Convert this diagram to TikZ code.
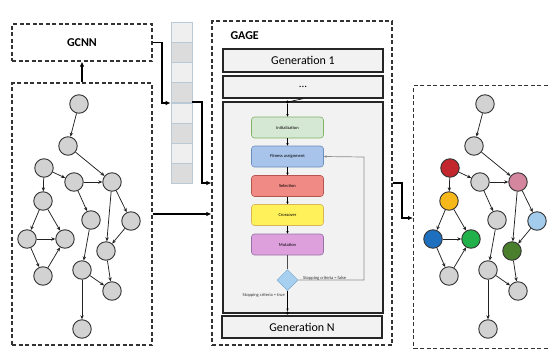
\documentclass[tikz,border=0pt]{standalone}
\usepackage{fontspec}
\setmainfont{Carlito}
\usetikzlibrary{arrows.meta,shapes.geometric}

\definecolor{nodegrey}{HTML}{D2D2D2}
\definecolor{edgegrey}{HTML}{222222}
\definecolor{cellA}{HTML}{EFEFEF}
\definecolor{cellB}{HTML}{DCDCDC}
\definecolor{cellline}{HTML}{B9C9D6}
\definecolor{panel}{HTML}{F2F2F2}
\definecolor{initF}{HTML}{D5E8D4}\definecolor{initD}{HTML}{82B366}
\definecolor{fitF}{HTML}{A9C4EB}\definecolor{fitD}{HTML}{6C8EBF}
\definecolor{selF}{HTML}{F08A84}\definecolor{selD}{HTML}{B85450}
\definecolor{croF}{HTML}{FFF15A}\definecolor{croD}{HTML}{D6B656}
\definecolor{mutF}{HTML}{DDA0DD}\definecolor{mutD}{HTML}{9673A6}
\definecolor{diaF}{HTML}{A7CFF0}\definecolor{diaD}{HTML}{7AA6CC}
\definecolor{cRed}{HTML}{C1272D}
\definecolor{cYellow}{HTML}{F7B81C}
\definecolor{cBlue}{HTML}{1F6FBF}
\definecolor{cGreen}{HTML}{22B04A}
\definecolor{cPink}{HTML}{D4869F}
\definecolor{cLight}{HTML}{A3CBEC}
\definecolor{cDark}{HTML}{4A7F2E}

\tikzset{
  dashbox/.style={draw=black!80, line width=1.1pt, dash pattern=on 4pt off 2.5pt},
  bigarrow/.style={line width=1.8pt, -{Latex[length=5pt,width=4.5pt]}},
  gnode/.style={circle, draw=black!80, line width=0.9pt, minimum size=18.5pt, inner sep=0pt},
  gedge/.style={edgegrey, line width=0.75pt, -{Stealth[length=4pt,width=3.4pt]}},
  genbox/.style={draw=black!85, line width=1.4pt, fill=panel},
  stepbox/.style={draw, rounded corners=3pt, minimum width=72pt, minimum height=21pt,
    inner sep=0pt, font=\fontsize{4.5}{5}\selectfont, line width=0.6pt},
  flow/.style={black, line width=0.6pt, -{Stealth[length=2.6pt,width=2.4pt]}},
  cell/.style={draw=cellline, line width=0.6pt, minimum width=21pt, minimum height=20pt, inner sep=0pt},
  smalltext/.style={font=\fontsize{4.5}{5}\selectfont, text=black!80},
  dot/.style={circle, fill=black, inner sep=0pt, minimum size=3.4pt}
}

% A directed graph; #1 = x shift, #2..#8 = fills of nodes c, f, e, h, i, j, k
\newcommand\gnet[8]{%
  \begin{scope}[xshift=#1]
    \node[gnode, fill=nodegrey] (a) at (79,104) {};
    \node[gnode, fill=nodegrey] (b) at (68,146) {};
    \node[gnode, fill=#2] (c) at (44,168) {};
    \node[gnode, fill=nodegrey] (d) at (74,182) {};
    \node[gnode, fill=#4] (e) at (112,182) {};
    \node[gnode, fill=#3] (f) at (43,201) {};
    \node[gnode, fill=nodegrey] (g) at (91,220) {};
    \node[gnode, fill=#5] (h) at (131,221) {};
    \node[gnode, fill=#6] (i) at (27,239) {};
    \node[gnode, fill=#7] (j) at (65,239) {};
    \node[gnode, fill=#8] (k) at (106,251) {};
    \node[gnode, fill=nodegrey] (l) at (43,276) {};
    \node[gnode, fill=nodegrey] (m) at (82,270) {};
    \node[gnode, fill=nodegrey] (n) at (112,291) {};
    \node[gnode, fill=nodegrey] (o) at (82,329) {};
    \foreach \s/\t in {a/b, b/e, c/f, c/d, d/e, d/g, e/k, e/h, h/k, f/i, f/j, i/j, i/l, l/j, g/m, m/o, m/n, k/n}
      \draw[gedge] (\s) -- (\t);
  \end{scope}}

\begin{document}
\begin{tikzpicture}[x=1pt, y=-1pt]
  \useasboundingbox (0,0) rectangle (550,354);
  \clip (0,0) rectangle (550,354);

  % GCNN block and input graph frame
  \node[dashbox, minimum width=140pt, minimum height=37pt, inner sep=0pt,
        font=\bfseries\fontsize{12}{14}\selectfont] (gcnn) at (82,42.5) {GCNN};
  \node[dashbox, minimum width=140pt, minimum height=262pt, inner sep=0pt] (inframe) at (82,214) {};
  \begin{scope}[name prefix=L-]
    \gnet{0pt}{nodegrey}{nodegrey}{nodegrey}{nodegrey}{nodegrey}{nodegrey}{nodegrey}
  \end{scope}

  % embedding vector
  \foreach \k in {0,...,7}{
    \pgfmathsetmacro\cy{32+20.2*\k}
    \ifodd\k
      \node[cell, fill=cellB] (v\k) at (181.5,\cy) {};
    \else
      \node[cell, fill=cellA] (v\k) at (181.5,\cy) {};
    \fi
  }

  % GAGE frame
  \node[dashbox, minimum width=180pt, minimum height=324pt, inner sep=0pt] (gage) at (302,183) {};
  \node[font=\bfseries\fontsize{12}{14}\selectfont, anchor=west] (gagelbl) at (227,36) {GAGE};
  \node[genbox, minimum width=160pt, minimum height=23pt, inner sep=0pt,
        font=\fontsize{12}{14}\selectfont] (gen1) at (303,60.5) {Generation 1};
  \node[genbox, minimum width=160pt, minimum height=22pt, inner sep=0pt,
        font=\fontsize{11}{12}\selectfont] (gdots) at (303,87) {...};
  \node[genbox, line width=1.1pt, minimum width=160pt, minimum height=211pt, inner sep=0pt] (inner) at (303,207.5) {};
  \node[genbox, minimum width=160pt, minimum height=22pt, inner sep=0pt,
        font=\fontsize{12}{14}\selectfont] (genN) at (302,327) {Generation N};

  % genetic algorithm loop
  \node[stepbox, fill=initF, draw=initD] (init) at (287.5,127.5) {Initialization};
  \node[stepbox, fill=fitF, draw=fitD] (fit) at (287.5,156.5) {Fitness assignment};
  \node[stepbox, fill=selF, draw=selD] (sel) at (287.5,186) {Selection};
  \node[stepbox, fill=croF, draw=croD] (cro) at (287.5,215) {Crossover};
  \node[stepbox, fill=mutF, draw=mutD] (mut) at (287.5,244.5) {Mutation};
  \node[diamond, fill=diaF, draw=diaD, line width=0.5pt, minimum width=21pt, minimum height=21pt,
        inner sep=0pt] (stop) at (287.5,280) {};
  \node[dot] (topdot) at (287.5,102) {};
  \node[dot] (botdot) at (287.5,313) {};
  \coordinate (fbR) at (364,280);
  \coordinate (fbT) at (364,157);

  \draw[black, line width=0.6pt] (gdots.south) -- (topdot);
  \draw[flow] (topdot) -- (init);
  \draw[flow] (init) -- (fit);
  \draw[flow] (fit) -- (sel);
  \draw[flow] (sel) -- (cro);
  \draw[flow] (cro) -- (mut);
  \draw[black!70, line width=0.6pt] (mut) -- (stop);
  \draw[flow] (stop) -- (botdot);
  \draw[black!45, line width=0.7pt, -{Stealth[length=2.8pt,width=2.6pt]}]
    (stop.east) -- (fbR) -- (fbT) -- (fit.east);
  \node[smalltext, anchor=south west, inner sep=1pt] (lblfalse) at (302,281) {Stopping criteria = false};
  \node[smalltext, anchor=east, inner sep=1pt] (lbltrue) at (286,295) {Stopping criteria = true};

  % output graph with highlighted nodes
  \node[dashbox, minimum width=150pt, minimum height=263pt, inner sep=0pt, anchor=north west] (outframe) at (413,85) {};
  \begin{scope}[name prefix=R-]
    \gnet{406pt}{cRed}{cYellow}{cPink}{cLight}{cBlue}{cGreen}{cDark}
  \end{scope}

  % data flow between the stages
  \draw[bigarrow] (inframe.north) -- (gcnn.south);
  \draw[bigarrow] (gcnn.east) -| (162,103) -- (v4.west |- 0,103);
  \draw[bigarrow] (v4.east |- 0,102) -| (202,183) -- (gage.west |- 0,183);
  \draw[bigarrow] (inframe.east |- 0,214) -- (gage.west |- 0,214);
  \draw[bigarrow] (gage.east |- 0,183) -| (402,218) -- (outframe.west |- 0,218);
\end{tikzpicture}
\end{document}
